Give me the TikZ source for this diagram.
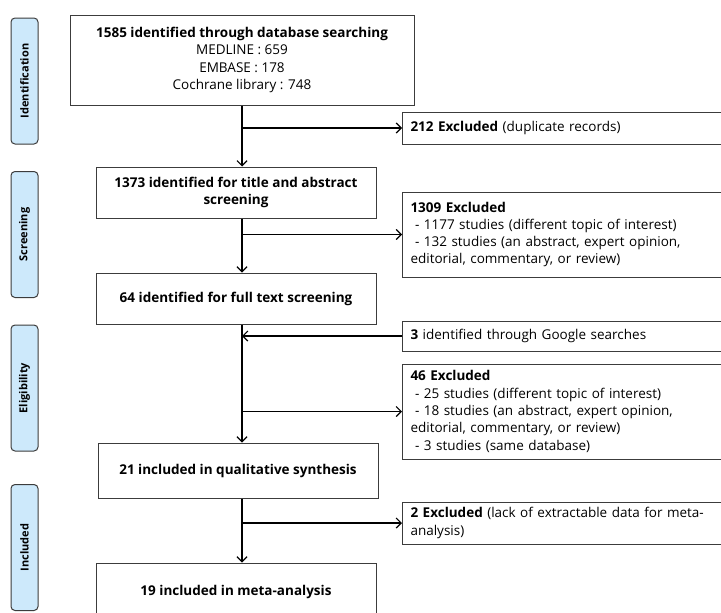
\documentclass[tikz,border=0pt]{standalone}
\usepackage{fontspec}
\setmainfont{Open Sans}
\usetikzlibrary{arrows.meta}
\definecolor{phasefill}{RGB}{205,233,251}
\definecolor{boxline}{RGB}{60,60,60}
\tikzset{
    phase/.style={draw=boxline,fill=phasefill,rounded corners=4pt,rotate=90,line width=1pt,
        minimum width=126pt,minimum height=27pt,inner sep=0pt,font=\fontsize{11}{13}\selectfont\bfseries},
    mainbox/.style={draw=boxline,line width=1pt,align=center,inner sep=2pt,
        font=\fontsize{13.5}{17.3}\selectfont\bfseries},
    sidebox/.style={draw=boxline,line width=1pt,anchor=west,align=left,text width=330pt,
        inner xsep=8pt,inner ysep=2pt,font=\fontsize{13.5}{17.3}\selectfont},
    arr/.style={line width=1.4pt,-{Straight Barb[length=5pt,width=10pt,line width=1.2pt]}}
}
\begin{document}
\begin{tikzpicture}[x=1pt,y=-1pt]
    \useasboundingbox (0,0) rectangle (721,613);
    \clip (0,0) rectangle (721,613);
    % phases on the left
    \foreach\name/\y/\txt in{ident/81/Identification,screen/234.5/Screening,elig/388/Eligibility,incl/547.5/Included}{
        \node[phase] (\name) at (24.5,\y) {\txt};
    }
    % main flow
    \coordinate (spine) at (242,0);
    \node[mainbox,minimum width=344pt,minimum height=90pt] (found) at (242,60)
        {1585 identified through database searching\\ \mdseries MEDLINE : 659\\ \mdseries EMBASE : 178\\ \mdseries Cochrane library : 748};
    \node[mainbox,minimum width=280pt,minimum height=51pt] (titles) at (236,192.5)
        {1373 identified for title and abstract\\ screening};
    \node[mainbox,minimum width=280pt,minimum height=51pt] (fulltext) at (236,298.5)
        {64 identified for full text screening};
    \node[mainbox,minimum width=280pt,minimum height=55pt] (quali) at (238,470.5)
        {21 included in qualitative synthesis};
    \node[mainbox,minimum width=280pt,minimum height=57pt] (meta) at (236,591.5)
        {19 included in meta-analysis};
    % side boxes
    \node[sidebox,minimum height=32pt] (dup) at (402,128)
        {\textbf{212 Excluded} (duplicate records)};
    \node[sidebox,minimum height=85pt] (exclA) at (402,234.5)
        {\textbf{1309 Excluded}\\
        \ - 1177 studies (different topic of interest)\\
        \ - 132 studies (an abstract, expert opinion,\\
        editorial, commentary, or review)};
    \node[sidebox,minimum height=30pt] (google) at (402,336)
        {\textbf{3} identified through Google searches};
    \node[sidebox,minimum height=95pt] (exclB) at (402,411.5)
        {\textbf{46 Excluded}\\
        \ - 25 studies (different topic of interest)\\
        \ - 18 studies (an abstract, expert opinion,\\
        editorial, commentary, or review)\\
        \ - 3 studies (same database)};
    \node[sidebox,minimum height=42pt] (exclC) at (402,523)
        {\textbf{2 Excluded} (lack of extractable data for meta-\\analysis)};
    % connectors
    \draw[arr] (found.south -| spine) -- (titles.north -| spine);
    \draw[arr] (titles.south -| spine) -- (fulltext.north -| spine);
    \draw[arr] (fulltext.south -| spine) -- (quali.north -| spine);
    \draw[arr] (quali.south -| spine) -- (meta.north -| spine);
    \draw[arr] (spine |- dup.west) -- (dup.west);
    \draw[arr] (spine |- exclA.west) -- (exclA.west);
    \draw[arr] (google.west) -- (spine |- google.west);
    \draw[arr] (spine |- exclB.west) -- (exclB.west);
    \draw[arr] (spine |- exclC.west) -- (exclC.west);
\end{tikzpicture}
\end{document}
